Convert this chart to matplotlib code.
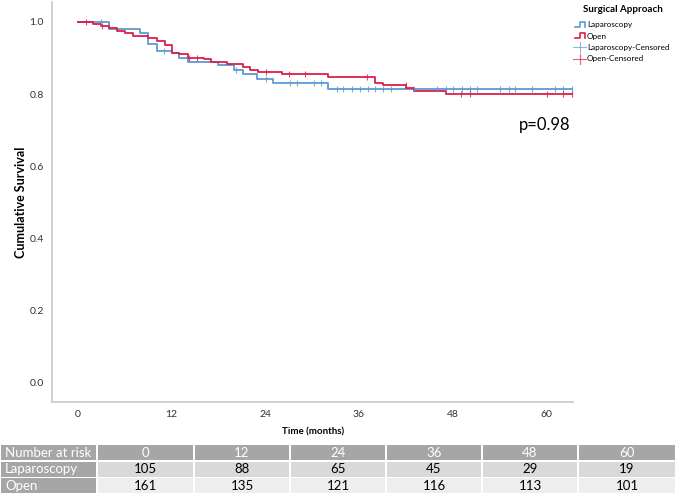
import numpy as np
import matplotlib
matplotlib.use("Agg")
import matplotlib.pyplot as plt
from matplotlib.patches import Rectangle
from matplotlib.lines import Line2D

plt.rcParams['font.family'] = ['Lato', 'DejaVu Sans']

# ---------------- data ----------------
lap_times = [0, 4.0, 7.9, 9.0, 10.1, 12.0, 13.0, 14.1, 18.0, 20.0, 21.1, 23.0, 25.0, 32.1]
lap_surv = [1.0, 0.981, 0.970, 0.940, 0.920, 0.913, 0.901, 0.889, 0.881, 0.868, 0.856, 0.843, 0.831, 0.815]
lap_cens = [3.0, 11.0, 20.2, 24.1, 27.2, 28.1, 30.2, 31.1, 33.2, 34.0, 35.1, 36.2, 37.2, 38.1,
            39.1, 40.1, 43.1, 46.0, 47.2, 48.1, 49.2, 50.2, 51.1, 54.1, 55.2, 56.0, 58.2,
            61.2, 62.2, 63.3]

open_times = [0, 1.9, 3.0, 4.0, 5.0, 6.0, 7.0, 9.0, 10.1, 11.1, 12.0, 13.0, 14.1, 16.1, 17.1,
              19.1, 21.1, 22.1, 23.1, 26.1, 32.1, 38.1, 39.1, 42.1, 43.1, 47.2]
open_surv = [1.0, 0.995, 0.989, 0.982, 0.975, 0.968, 0.962, 0.955, 0.947, 0.935, 0.915, 0.910,
             0.901, 0.896, 0.889, 0.882, 0.875, 0.868, 0.862, 0.855, 0.847, 0.831, 0.824,
             0.817, 0.809, 0.801]
open_cens = [1.0, 3.1, 14.2, 15.2, 24.1, 27.1, 29.1, 37.1, 42.0, 49.1, 50.2, 60.1, 62.2, 63.3]

end_time = 63.3

risk_times = [0, 12, 24, 36, 48, 60]
risk_lap = [105, 88, 65, 45, 29, 19]
risk_open = [161, 135, 121, 116, 113, 101]

p_text = "p=0.98"
group_names = ["Laparoscopy", "Open"]

blue = '#5b9bd5'
red = '#dc1f4a'

# ---------------- figure ----------------
W, H = 676, 494
fig = plt.figure(figsize=(W / 100, H / 100), dpi=100)

def fx(px):
    return px / W

def fy(py):
    return 1 - py / H

ax = fig.add_axes([fx(52), fy(402), fx(573.3) - fx(52), fy(2) - fy(402)])
ax.set_xlim(-3.33, 63.5)
ax.set_ylim(-0.053, 1.055)

def step_at(times, surv, t):
    idx = np.searchsorted(times, t, side='right') - 1
    return np.asarray(surv)[idx]

for times, surv, cens, col in [(lap_times, lap_surv, lap_cens, blue),
                               (open_times, open_surv, open_cens, red)]:
    tt = list(times) + [end_time]
    ss = list(surv) + [surv[-1]]
    ax.step(tt, ss, where='post', color=col, lw=1.3, zorder=3)
    cy = step_at(times, surv, np.array(cens))
    ax.plot(cens, cy, linestyle='none', marker='|', markersize=5, mew=0.8,
            color=col, alpha=0.8, zorder=4)

for s in ['top', 'right']:
    ax.spines[s].set_visible(False)
for s in ['left', 'bottom']:
    ax.spines[s].set_color('#c8c8c8')
    ax.spines[s].set_linewidth(1.2)

ax.set_xticks(risk_times)
ax.set_yticks([0.0, 0.2, 0.4, 0.6, 0.8, 1.0])
ax.set_yticklabels([f"{v:.1f}" for v in [0.0, 0.2, 0.4, 0.6, 0.8, 1.0]])
ax.tick_params(length=0, labelsize=7.5, colors='#333333', pad=6)
ax.set_xlabel("Time (months)", fontsize=7, fontweight='bold', labelpad=6)
ax.set_ylabel("Cumulative Survival", fontsize=9, fontweight='bold', labelpad=2)

ax.text(fx(570), fy(125), p_text, transform=fig.transFigure, ha='right', va='center',
        fontsize=12)

# ---------------- legend ----------------
fig.text(fx(583), fy(10), "Surgical Approach", fontsize=7, fontweight='bold', va='center')
leg_rows = [25, 36, 47.5, 59]
leg_fs = 5.9
for i, (name, col) in enumerate(zip(group_names, [blue, red])):
    y = leg_rows[i]
    xs = [fx(575), fx(580), fx(580), fx(585), fx(585)]
    ys = [fy(y + 2), fy(y + 2), fy(y - 3), fy(y - 3), fy(y + 2)]
    fig.add_artist(Line2D(xs, ys, color=col, lw=1.2, transform=fig.transFigure))
    fig.text(fx(587), fy(y), name, fontsize=leg_fs, va='center')
for i, (name, col) in enumerate(zip(group_names, [blue, red])):
    y = leg_rows[2 + i]
    fig.add_artist(Line2D([fx(573), fx(586)], [fy(y), fy(y)], color=col, lw=0.8,
                          alpha=0.7, transform=fig.transFigure))
    fig.add_artist(Line2D([fx(579.5), fx(579.5)], [fy(y - 5), fy(y + 5)], color=col, lw=0.8,
                          alpha=0.7, transform=fig.transFigure))
    fig.text(fx(587), fy(y), name + "-Censored", fontsize=leg_fs, va='center')

# ---------------- risk table ----------------
col_edges = [0, 97, 194, 290, 386, 482, 578, 676]
row_edges = [444, 461, 477.5, 494]
hdr_col = '#a6a6a6'
row_cols = ['#d9d9d9', '#eeeeee']
rows = [["Number at risk"] + [str(t) for t in risk_times],
        [group_names[0]] + [str(v) for v in risk_lap],
        [group_names[1]] + [str(v) for v in risk_open]]
for r in range(3):
    for c in range(7):
        x0, x1 = col_edges[c], col_edges[c + 1]
        y0, y1 = row_edges[r], row_edges[r + 1]
        if r == 0 or c == 0:
            fc = hdr_col
            tc = 'white'
        else:
            fc = row_cols[r - 1]
            tc = 'black'
        fig.add_artist(Rectangle((fx(x0 + 1), fy(y1 - 0.8)), fx(x1 - x0 - 2),
                                 fy(y0 + 0.8) - fy(y1 - 0.8), transform=fig.transFigure,
                                 facecolor=fc, edgecolor='none'))
        txt = rows[r][c]
        if c == 0:
            fig.text(fx(x0 + 5), fy((y0 + y1) / 2), txt, fontsize=9.5, color=tc,
                     ha='left', va='center')
        else:
            fig.text(fx((x0 + x1) / 2), fy((y0 + y1) / 2), txt, fontsize=9.5, color=tc,
                     ha='center', va='center')

fig.savefig("out.png", dpi=100)
